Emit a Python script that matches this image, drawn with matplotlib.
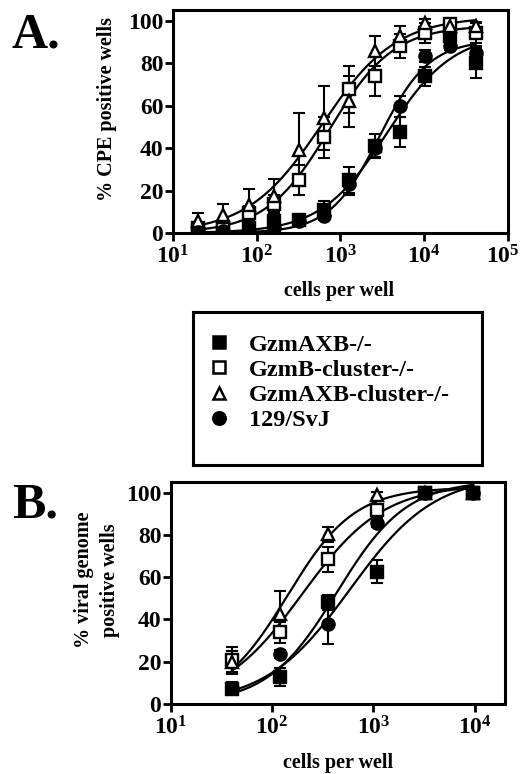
import numpy as np
import matplotlib
matplotlib.use("Agg")
import matplotlib.pyplot as plt
from matplotlib.lines import Line2D
from matplotlib.transforms import ScaledTranslation

# ----------------------
# Style
# ----------------------
plt.rcParams['font.family'] = ['Liberation Serif', 'DejaVu Serif']
plt.rcParams['font.weight'] = 'bold'
plt.rcParams['mathtext.fontset'] = 'custom'
plt.rcParams['mathtext.rm'] = 'Liberation Serif:bold'
plt.rcParams['mathtext.bf'] = 'Liberation Serif:bold'
plt.rcParams['mathtext.it'] = 'Liberation Serif:bold:italic'

# ----------------------
# Data
# ----------------------
series_names = ["GzmAXB-/-", "GzmB-cluster-/-", "GzmAXB-cluster-/-", "129/SvJ"]

# Panel A: % CPE positive wells
cells_a = [20, 40, 80, 160, 320, 640, 1280, 2560, 5120, 10240, 20480, 40960]
a_gzmaxb = [0.8, 1.5, 2.5, 5.5, 6, 10.7, 25, 40.9, 47.6, 73.9, 92.7, 80.2]
a_gzmaxb_err = [0.5, 1, 1.5, 3, 2, 4.5, 6, 5.5, 7, 4.5, 3, 7]
a_gzmb_cl = [2.5, 2, 9.5, 13.8, 25, 45, 67.6, 73.9, 88, 94.3, 98.3, 94.3]
a_gzmb_cl_err = [1.5, 1.5, 3, 4, 7, 9.5, 11, 9.5, 5.5, 4.7, 1.5, 4.7]
a_gzmaxb_cl = [5.5, 8.6, 13.4, 17.5, 39.3, 54.2, 62, 85.7, 92.7, 99, 97.5, 97.5]
a_gzmaxb_cl_err = [4, 5, 7.5, 8, 17, 15, 12, 7, 5, 2, 2, 2]
a_svj = [0.5, 1, 1, 2.5, 5.5, 8, 23, 40, 59.7, 83.3, 88, 85]
a_svj_err = [0.5, 0.5, 1, 1, 1, 2, 5, 4, 5, 3, 2, 3]

# Panel B: % viral genome positive wells
cells_b = [40, 120, 360, 1080, 3240, 9720]
b_gzmaxb = [7.2, 12.7, 48.1, 62.6, 100, 100]
b_gzmaxb_err = [3, 4.2, 3.5, 5.3, 0.5, 0.5]
b_gzmb_cl = [20.6, 34, 68.5, 92, 100, 100]
b_gzmb_cl_err = [6.3, 5, 6, 2, 0.5, 0.5]
b_gzmaxb_cl = [20, 42.6, 80.3, 99, 100, 100]
b_gzmaxb_cl_err = [5, 11, 3.5, 1.5, 0.5, 0.5]
b_svj = [7.5, 23.7, 37.9, 85.8, 100, 100]
b_svj_err = [2, 2, 9.5, 2, 0.5, 0.5]

a_ticks_x = [10, 100, 1000, 10000, 100000]
a_ticklabels_x = [r'$\mathregular{10^{1}}$', r'$\mathregular{10^{2}}$', r'$\mathregular{10^{3}}$',
                  r'$\mathregular{10^{4}}$', r'$\mathregular{10^{5}}$']
b_ticks_x = [10, 100, 1000, 10000]
b_ticklabels_x = a_ticklabels_x[:4]
ticks_y = [0, 20, 40, 60, 80, 100]

# marker styles per series: (marker, facecolor)
styles = [('s', 'black'), ('s', 'white'), ('^', 'white'), ('o', 'black')]


# ----------------------
# Sigmoid fit (bottom = 0), grid search on EC50 / hill, top solved linearly
# ----------------------
def fit_curve(x, y):
    lx = np.log10(np.asarray(x, float))
    y = np.asarray(y, float)
    logec = np.arange(0.5, 5.5, 0.005)
    hill = np.arange(0.4, 3.0, 0.01)
    E, H = np.meshgrid(logec, hill, indexing='ij')
    f = 1.0 / (1.0 + 10 ** ((E[..., None] - lx) * H[..., None]))
    top = (f * y).sum(-1) / (f * f).sum(-1)
    sse = ((top[..., None] * f - y) ** 2).sum(-1)
    i, j = np.unravel_index(np.argmin(sse), sse.shape)
    return logec[i], hill[j], top[i, j]


def draw_panel(ax, cells, values, errors):
    xs = np.logspace(np.log10(min(cells)), np.log10(max(cells)), 300)
    for vals in values:
        le, h, top = fit_curve(cells, vals)
        ax.plot(xs, top / (1 + 10 ** ((le - np.log10(xs)) * h)), color='black', lw=1.6, zorder=2)
    for vals, errs, (m, fc) in zip(values, errors, styles):
        ax.errorbar(cells, vals, yerr=errs, fmt='none', ecolor='black', elinewidth=1.5,
                    capsize=4.5, capthick=1.5, zorder=3)
        ax.plot(cells, vals, ls='none', marker=m, ms=8.8, mfc=fc, mec='black', mew=1.7, zorder=4)


def style_axes(ax, xlim, xticks, xticklabels):
    ax.set_xscale('log')
    ax.set_xlim(*xlim)
    ax.set_ylim(0, 105)
    ax.xaxis.set_major_locator(matplotlib.ticker.FixedLocator(xticks))
    ax.xaxis.set_minor_locator(matplotlib.ticker.NullLocator())
    ax.set_xticklabels(xticklabels, fontsize=17)
    ax.set_yticks(ticks_y)
    ax.set_yticklabels([str(t) for t in ticks_y], fontsize=17)
    ax.tick_params(direction='out', length=6, width=2, pad=1)
    ax.tick_params(axis='x', pad=3)
    for sp in ax.spines.values():
        sp.set_linewidth(2.2)


fig = plt.figure(figsize=(5.23, 7.74), dpi=100)

# ----------------------
# Panel A
# ----------------------
ax_a = fig.add_axes([0.3308, 0.699, 0.6405, 0.288])
draw_panel(ax_a, cells_a,
           [a_gzmaxb, a_gzmb_cl, a_gzmaxb_cl, a_svj],
           [a_gzmaxb_err, a_gzmb_cl_err, a_gzmaxb_cl_err, a_svj_err])
style_axes(ax_a, (10, 100000), a_ticks_x, a_ticklabels_x)
# last tick label sits on the figure edge, nudge it in a little
last = ax_a.get_xticklabels()[-1]
last.set_transform(last.get_transform() + ScaledTranslation(-5 / 100, 0, fig.dpi_scale_trans))
ax_a.set_ylabel('% CPE positive wells', fontsize=14.5, fontweight='bold', va='center')
ax_a.yaxis.set_label_coords(-0.197, 0.556)
ax_a.set_xlabel('cells per well', fontsize=14.5, fontweight='bold', va='center')
ax_a.xaxis.set_label_coords(0.495, -0.262)

# ----------------------
# Panel B
# ----------------------
ax_b = fig.add_axes([0.327, 0.0904, 0.6386, 0.2868])
draw_panel(ax_b, cells_b,
           [b_gzmaxb, b_gzmb_cl, b_gzmaxb_cl, b_svj],
           [b_gzmaxb_err, b_gzmb_cl_err, b_gzmaxb_cl_err, b_svj_err])
style_axes(ax_b, (10, 20000), b_ticks_x, b_ticklabels_x)
ax_b.set_ylabel('% viral genome\npositive wells', fontsize=14.5, fontweight='bold', va='center',
                linespacing=1.4)
ax_b.yaxis.set_label_coords(-0.223, 0.559)
ax_b.set_xlabel('cells per well', fontsize=14.5, fontweight='bold', va='center')
ax_b.xaxis.set_label_coords(0.5, -0.266)

# ----------------------
# Legend box
# ----------------------
ax_leg = fig.add_axes([193 / 523, 1 - 465 / 774, 289 / 523, 153 / 774])
ax_leg.set_xticks([])
ax_leg.set_yticks([])
for sp in ax_leg.spines.values():
    sp.set_linewidth(2.2)
handles = [Line2D([], [], ls='none', marker=m, ms=9, mfc=fc, mec='black', mew=1.8)
           for m, fc in styles]
ax_leg.legend(handles, series_names, loc='upper left', bbox_to_anchor=(-0.02, 0.985),
              frameon=False, handlelength=1.0, handletextpad=0.75,
              labelspacing=0.13, borderaxespad=0.4, prop={'weight': 'bold', 'size': 17.5})

# ----------------------
# Panel letters
# ----------------------
fig.text(12 / 523, 1 - 47 / 774, 'A.', fontsize=36, fontweight='bold', va='baseline')
fig.text(12 / 523, 1 - 517 / 774, 'B.', fontsize=36, fontweight='bold', va='baseline')

fig.savefig('out.png', dpi=100)
